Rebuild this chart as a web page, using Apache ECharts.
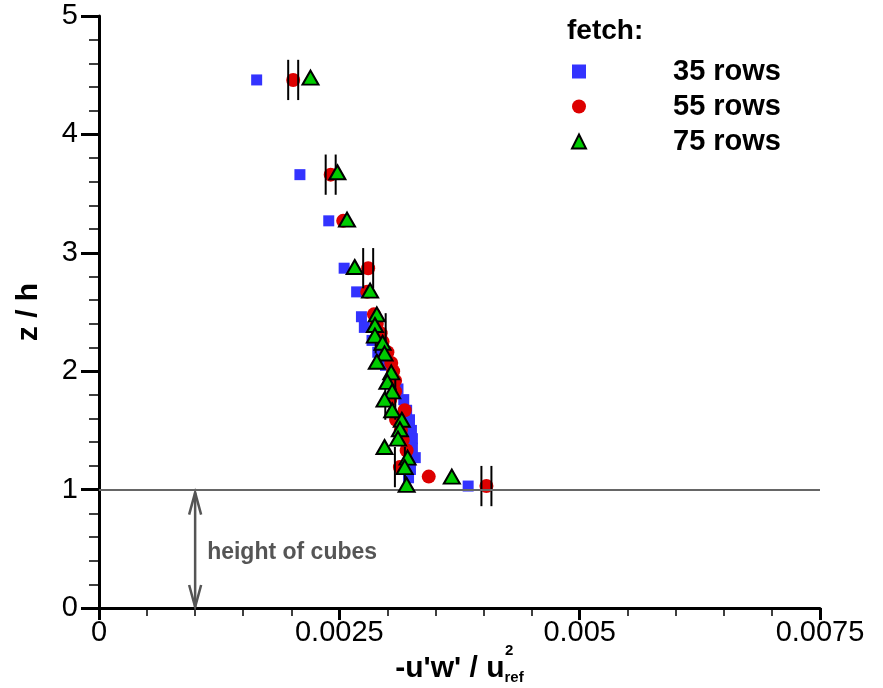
<!DOCTYPE html>
<html>
<head>
<meta charset="utf-8">
<style>html,body{margin:0;padding:0;background:#fff;}#chart{width:883px;height:688px;}</style>
<script src="https://cdn.jsdelivr.net/npm/echarts@6/dist/echarts.min.js"></script>
</head>
<body>
<div id="chart"></div>
<script>
// ---- data (x = -u'w'/u_ref^2, z/h) ----
const rows35 = [
  [0.00164,4.46],[0.00209,3.66],[0.00239,3.27],[0.00255,2.87],[0.00268,2.67],[0.00273,2.46],
  [0.00276,2.37],[0.00284,2.26],[0.00290,2.16],[0.00298,2.05],[0.00304,1.94],[0.00311,1.85],
  [0.00317,1.76],[0.00320,1.67],[0.00323,1.59],[0.00325,1.50],[0.00326,1.43],[0.00326,1.35],
  [0.00329,1.27],[0.00324,1.17],[0.00322,1.10],[0.00384,1.03]
];
const rows55 = [
  [0.00202,4.46],[0.00241,3.66],[0.00254,3.27],[0.00280,2.87],[0.00279,2.67],[0.00286,2.48],
  [0.00289,2.40],[0.00293,2.32],[0.00295,2.25],[0.00300,2.16],[0.00304,2.07],[0.00306,2.00],
  [0.00308,1.92],[0.00308,1.83],[0.00303,1.76],[0.00318,1.67],[0.00309,1.59],[0.00314,1.50],
  [0.00316,1.42],[0.00320,1.33],[0.00313,1.19],[0.00343,1.11],[0.00403,1.03]
];
const rows75 = [
  [0.00220,4.48],[0.00248,3.68],[0.00258,3.28],[0.00266,2.88],[0.00282,2.68],[0.00289,2.48],
  [0.00287,2.39],[0.00287,2.30],[0.00295,2.24],[0.00297,2.15],[0.00289,2.08],[0.00304,1.99],
  [0.00300,1.91],[0.00305,1.83],[0.00297,1.76],[0.00305,1.67],[0.00315,1.59],[0.00313,1.51],
  [0.00311,1.43],[0.00297,1.36],[0.00321,1.27],[0.00318,1.19],[0.00367,1.11],[0.00320,1.04]
];
// error bars on 55-rows points: [x, z, dx, dz]
const errorBars = [
  [0.00202,4.46,0.000052,0.17],[0.00241,3.66,0.000052,0.17],[0.00280,2.87,0.000052,0.17],
  [0.00293,2.32,0.000052,0.17],[0.00303,1.76,0.000052,0.17],[0.00313,1.19,0.000052,0.17],
  [0.00403,1.03,0.000052,0.17]
];
const seriesNames = ['35 rows','55 rows','75 rows'];
const cubeHeight = 1;
const cubeArrowX = 0.001;
const xTicks = {min:0, max:0.0075, interval:0.0025};
const yTicks = {min:0, max:5, interval:1};

const FONT = '"Liberation Sans", Arial, Helvetica, sans-serif';
const chart = echarts.init(document.getElementById('chart'), null, {renderer:'canvas'});

function renderErr(params, api){
  const x = api.value(0), z = api.value(1), dx = api.value(2), dz = api.value(3);
  const l = api.coord([x-dx, z]), r = api.coord([x+dx, z]);
  const t = api.coord([x, z+dz]), b = api.coord([x, z-dz]);
  const st = {stroke:'#000', lineWidth:2};
  return {type:'group', children:[
    {type:'line', shape:{x1:l[0],y1:t[1],x2:l[0],y2:b[1]}, style:st},
    {type:'line', shape:{x1:r[0],y1:t[1],x2:r[0],y2:b[1]}, style:st}
  ]};
}
function renderArrow(params, api){
  const bot = api.coord([api.value(0), api.value(1)]);
  const top = api.coord([api.value(0), api.value(2)]);
  const ah = 22, aw = 6, c = '#555';
  const y1 = top[1] + 3, y2 = bot[1] - 1;
  const st = {stroke:c, lineWidth:2.5, fill:null};
  return {type:'group', children:[
    {type:'line', shape:{x1:top[0], y1:y1, x2:bot[0], y2:y2}, style:st},
    {type:'polyline', shape:{points:[[top[0]-aw, y1+ah],[top[0], y1],[top[0]+aw, y1+ah]]}, style:st},
    {type:'polyline', shape:{points:[[bot[0]-aw, y2-ah],[bot[0], y2],[bot[0]+aw, y2-ah]]}, style:st},
    {type:'text', x: top[0]+12, y:(top[1]+bot[1])/2 + 4,
     style:{text:'height of cubes', font:'bold 23px ' + FONT, fill:c, verticalAlign:'middle', align:'left'}}
  ]};
}

const option = {
  backgroundColor:'#fff',
  animation:false,
  grid:{left:99, right:63, top:16, bottom:80, containLabel:false, outerBoundsMode:'none'},
  xAxis:{
    type:'value', min:xTicks.min, max:xTicks.max, interval:xTicks.interval,
    axisLine:{show:true, onZero:false, lineStyle:{color:'#000', width:3}},
    axisTick:{show:true, length:12, lineStyle:{color:'#000', width:3}},
    minorTick:{show:true, splitNumber:5, length:8, lineStyle:{color:'#000', width:1.5}},
    splitLine:{show:false},
    axisLabel:{color:'#000', fontSize:29, fontFamily:FONT, margin:10,
      formatter: v => v === 0 ? '0' : String(+v.toFixed(5))},
    name:"{m|-u'w' / u}{s|ref}",
    nameLocation:'middle', nameGap:44,
    nameTextStyle:{rich:{
      m:{fontSize:30, fontWeight:'bold', fontFamily:FONT, color:'#000'},
      s:{fontSize:15, fontWeight:'bold', fontFamily:FONT, color:'#000', padding:[18,0,0,0]}
    }}
  },
  yAxis:{
    type:'value', min:yTicks.min, max:yTicks.max, interval:yTicks.interval,
    axisLine:{show:true, onZero:false, lineStyle:{color:'#000', width:3}},
    axisTick:{show:true, length:18, lineStyle:{color:'#000', width:3}},
    minorTick:{show:true, splitNumber:5, length:10, lineStyle:{color:'#000', width:1.5}},
    splitLine:{show:false},
    axisLabel:{color:'#000', fontSize:29, fontFamily:FONT, margin:21},
    name:'z / h', nameLocation:'middle', nameGap:55, nameRotate:90,
    nameTextStyle:{fontSize:30, fontWeight:'bold', fontFamily:FONT, color:'#000'}
  },
  legend:{
    data:seriesNames, orient:'vertical', left:571, top:57, padding:0,
    itemWidth:14, itemHeight:14, itemGap:6, selectedMode:false,
    formatter: n => '{t|' + n + '}',
    textStyle:{rich:{t:{fontSize:29, fontWeight:'bold', fontFamily:FONT, color:'#000', lineHeight:29, padding:[0,0,0,82]}}}
  },
  graphic:[
    {type:'text', left:567, top:17, style:{text:'fetch:', font:'bold 28px ' + FONT, fill:'#000'}},
    {type:'text', left:505, top:643, style:{text:'2', font:'bold 15px ' + FONT, fill:'#000'}}
  ],
  series:[
    {type:'custom', name:'cubes', renderItem:renderArrow, data:[[cubeArrowX, 0, cubeHeight]],
     encode:{x:0, y:[1,2]}, silent:true, z:1,
     markLine:{silent:true, symbol:['none','none'], label:{show:false},
       lineStyle:{color:'#666', width:2, type:'solid'}, data:[{yAxis:cubeHeight}]}},
    {type:'scatter', name:seriesNames[0], data:rows35, symbol:'rect', symbolSize:11,
     itemStyle:{color:'#3333ff', opacity:1}, z:2},
    {type:'scatter', name:seriesNames[1], data:rows55, symbol:'circle', symbolSize:14,
     itemStyle:{color:'#dd0000', opacity:1}, z:3},
    {type:'custom', name:'err', renderItem:renderErr, data:errorBars, encode:{x:0, y:1}, z:4, silent:true},
    {type:'scatter', name:seriesNames[2], data:rows75, symbol:'triangle', symbolSize:[16,14],
     itemStyle:{color:'#00cc00', borderColor:'#000', borderWidth:2, opacity:1}, z:5}
  ]
};
chart.setOption(option);
</script>
</body>
</html>
